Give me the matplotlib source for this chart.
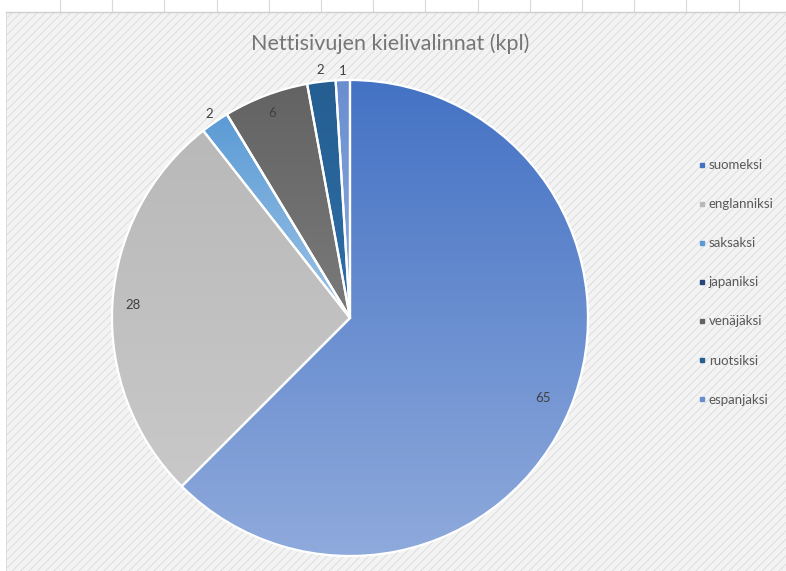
import numpy as np
import matplotlib
matplotlib.use("Agg")
from matplotlib import pyplot as plt
from matplotlib.patches import Rectangle
from matplotlib.lines import Line2D
from matplotlib.colors import to_rgb

kielet = ["suomeksi", "englanniksi", "saksaksi", "japaniksi", "venäjäksi", "ruotsiksi", "espanjaksi"]
maarat = [65, 28, 2, 0, 6, 2, 1]

# base (top) and light (bottom) colours of each slice's gradient
varit = ["#4472C4", "#B9B9B9", "#5B9BD5", "#264478", "#636363", "#255E91", "#698ED0"]
vaaleat = ["#8FAADC", "#C8C8C8", "#9DC3E6", "#3A5C9A", "#7A7A7A", "#2E6FA8", "#8FAADC"]
# label distance (relative to radius)
etaisyys = [0.88, 0.915, 1.04, 1.0, 0.92, 1.05, 1.04]

plt.rcParams['font.family'] = ['Lato', 'DejaVu Sans']
plt.rcParams['hatch.linewidth'] = 0.6
plt.rcParams['hatch.color'] = '#DADADA'

W, H = 786, 571
fig = plt.figure(figsize=(W / 100, H / 100), dpi=100)
fig.patch.set_facecolor('white')

# chart area background with diagonal hatch
tausta = Rectangle((6 / W, 0), 1 - 6 / W, 1 - 12 / H, transform=fig.transFigure,
                   facecolor='#F3F3F3', edgecolor='#DADADA', hatch='////', lw=0.6, zorder=-2)
fig.patches.append(tausta)
# spreadsheet column lines above chart
for gx in np.arange(60, 786, 52.2):
    fig.add_artist(Line2D([gx / W, gx / W], [1 - 12 / H, 1], color='#D9D9D9', lw=0.8))
fig.add_artist(Line2D([6 / W, 1], [1 - 12 / H, 1 - 12 / H], color='#CFCFCF', lw=1.0))

cx, cy, r = 350, 318, 238
ax = fig.add_axes([(cx - r) / W, (H - cy - r) / H, 2 * r / W, 2 * r / H])
ax.set_xlim(-1, 1)
ax.set_ylim(-1, 1)
ax.axis('off')

wedges, _ = ax.pie(maarat, startangle=90, counterclock=False, radius=1,
                   wedgeprops=dict(edgecolor='white', linewidth=1.6))

for w, c1, c2 in zip(wedges, varit, vaaleat):
    w.set_facecolor(c1)
    if w.theta2 - w.theta1 < 1e-6:
        continue
    bb = w.get_path().get_extents()
    a = np.array(to_rgb(c1))
    b = np.array(to_rgb(c2))
    t = np.linspace(0, 1, 256)[:, None]
    grad = (a * (1 - t) + b * t)[:, None, :]
    im = ax.imshow(grad, extent=[bb.x0, bb.x1, bb.y0, bb.y1], origin='upper',
                   aspect='auto', zorder=w.get_zorder() - 0.01, interpolation='bilinear')
    im.set_clip_path(w)
    w.set_facecolor('none')
    w.set_zorder(w.get_zorder() + 0.1)

ax.set_xlim(-1, 1)
ax.set_ylim(-1, 1)

for w, v, k in zip(wedges, maarat, etaisyys):
    if v == 0:
        continue
    ang = np.deg2rad((w.theta1 + w.theta2) / 2)
    ax.text(k * np.cos(ang), k * np.sin(ang), str(v), ha='center', va='center',
            fontsize=9.5, color='#404040', zorder=10)

fig.text(390 / W, 1 - 44 / H, "Nettisivujen kielivalinnat (kpl)", ha='center', va='center',
         fontsize=15.5, color='#767676')

kahvat = [Line2D([], [], marker='s', ls='none', markersize=3.5, color=c) for c in varit]
fig.legend(kahvat, kielet, loc='upper left', bbox_to_anchor=(693 / W, 1 - 154 / H),
           frameon=False, fontsize=9.5, labelcolor='#595959', handlelength=0.5,
           handletextpad=0.3, labelspacing=2.05, borderaxespad=0)

fig.savefig('out.png', dpi=100)
